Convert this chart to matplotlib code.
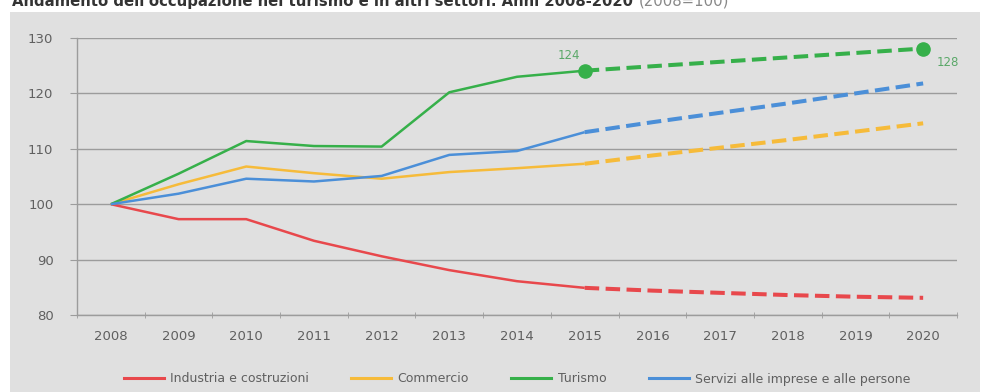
import matplotlib
matplotlib.use("Agg")
import matplotlib.pyplot as plt
from matplotlib.lines import Line2D
from matplotlib.patches import Rectangle

years = ["2008", "2009", "2010", "2011", "2012", "2013", "2014",
         "2015", "2016", "2017", "2018", "2019", "2020"]
industria = [100, 97.3, 97.3, 93.4, 90.6, 88.1, 86.1, 84.9, 84.4, 84.0, 83.6, 83.3, 83.1]
commercio = [100, 103.6, 106.8, 105.6, 104.6, 105.8, 106.5, 107.3, 108.8, 110.2, 111.6, 113.1, 114.6]
turismo = [100, 105.5, 111.4, 110.5, 110.4, 120.2, 123.0, 124.1, 124.9, 125.7, 126.5, 127.3, 128.1]
servizi = [100, 101.9, 104.6, 104.1, 105.1, 108.9, 109.6, 113.0, 114.8, 116.5, 118.2, 120.0, 121.8]
series_names = ["Industria e costruzioni", "Commercio", "Turismo",
                "Servizi alle imprese e alle persone"]
colors = ["#e8484c", "#f6bb3a", "#36b04a", "#4b8fd8"]
forecast_start = "2015"
labelled = {"2015": "124", "2020": "128"}

W, H = 984, 392
fig = plt.figure(figsize=(W / 100, H / 100), dpi=100)
fig.patch.set_facecolor("white")
bg = "#e0e0e0"
fig.patches.append(Rectangle((10 / W, 0), (980 - 10) / W, (H - 12) / H,
                             transform=fig.transFigure, facecolor=bg,
                             edgecolor="none", zorder=-10))

ax = fig.add_axes([77 / W, 1 - 315 / H, (957 - 77) / W, (315 - 38) / H])
ax.set_facecolor(bg)

x = list(range(len(years)))
k = years.index(forecast_start)
data = [industria, commercio, turismo, servizi]
for vals, c in zip(data, colors):
    ax.plot(x[:k + 1], vals[:k + 1], color=c, lw=1.8, solid_capstyle="butt", zorder=3)
    ax.plot(x[k:], vals[k:], color=c, lw=2.9, dashes=(3.6, 1.6), zorder=3)

# markers and labels on Turismo
for yr, txt in labelled.items():
    i = years.index(yr)
    ax.plot(x[i], turismo[i], "o", color=colors[2], ms=9.5, zorder=4)
    off = (-11, 11) if yr == "2015" else (18, -10)
    ax.annotate(txt, (x[i], turismo[i]), xytext=off, textcoords="offset points",
                ha="center", va="center", fontsize=8.5, color="#5aa868")

ax.set_xlim(-0.5, len(years) - 0.5)
ax.set_ylim(80, 130)
ax.set_yticks([80, 90, 100, 110, 120, 130])
ax.set_xticks(x)
ax.set_xticklabels(years)
ax.set_xticks([i + 0.5 for i in range(-1, len(years))], minor=True)
ax.grid(axis="y", color="#9c9c9c", lw=1.0, zorder=1)
ax.tick_params(axis="x", which="major", length=0, pad=11, labelsize=9.5, labelcolor="#606060")
ax.tick_params(axis="x", which="minor", length=5, direction="inout", color="#9c9c9c")
ax.tick_params(axis="y", length=5, color="#9c9c9c", pad=12, labelsize=9.5, labelcolor="#606060")
for s in ["top", "right"]:
    ax.spines[s].set_visible(False)
for s in ["left", "bottom"]:
    ax.spines[s].set_color("#9c9c9c")
    ax.spines[s].set_linewidth(1.0)

handles = [Line2D([0], [0], color=c, lw=2.2) for c in colors]
fig.legend(handles, series_names, loc="center", ncol=4,
           bbox_to_anchor=(517 / W, 1 - 379 / H), frameon=False,
           fontsize=9, handlelength=3.2, handletextpad=0.5, columnspacing=3.4,
           labelcolor="#606060")

t1 = fig.text(12 / W, 1 - 6 / H,
              "Andamento dell'occupazione nel turismo e in altri settori. Anni 2008-2020",
              fontsize=10.7, fontweight="bold", color="#333333", va="baseline", ha="left")
fig.canvas.draw()
bb = t1.get_window_extent()
fig.text((bb.x1 + 6) / W, 1 - 6 / H, "(2008=100)", fontsize=10.7, color="#888888",
         va="baseline", ha="left")

fig.savefig("out.png", dpi=100)
